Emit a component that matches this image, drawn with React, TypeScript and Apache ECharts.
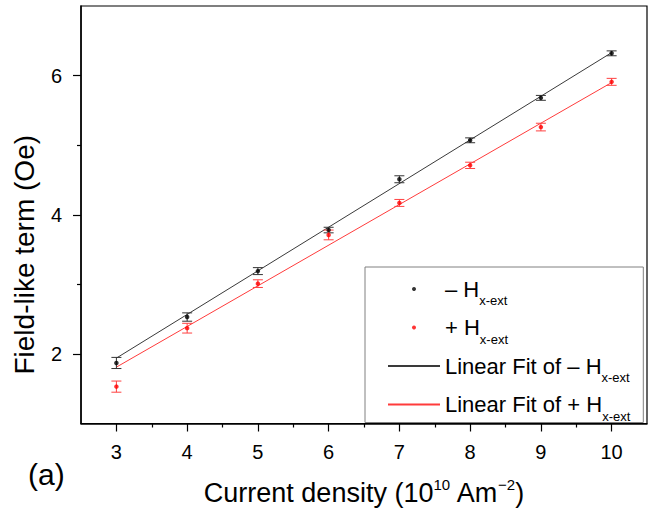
import React, { useEffect, useRef } from "react";
import * as echarts from "echarts";

const FONT = "'Liberation Sans', Arial, sans-serif";

const xValues = [3, 4, 5, 6, 7, 8, 9, 10];
const negH = [1.87, 2.53, 3.19, 3.78, 4.51, 5.07, 5.68, 6.32];
const negHErr = [0.08, 0.06, 0.05, 0.04, 0.05, 0.035, 0.035, 0.035];
const posH = [1.53, 2.37, 3.01, 3.71, 4.17, 4.71, 5.26, 5.91];
const posHErr = [0.08, 0.07, 0.055, 0.07, 0.05, 0.045, 0.055, 0.05];

const fitX = [3, 10];
const fitNeg = [1.94, 6.33];
const fitPos = [1.81, 5.9];

const xTickValues = [3, 4, 5, 6, 7, 8, 9, 10];
const xMinorTicks = [3.5, 4.5, 5.5, 6.5, 7.5, 8.5, 9.5];
const yTickValues = [2, 4, 6];
const yMinorTicks = [3, 5];

const NEG = "– Hx-ext";
const POS = "+ Hx-ext";
const FIT_NEG = "Linear Fit of – Hx-ext";
const FIT_POS = "Linear Fit of + Hx-ext";

function errorBarSeries(name: string, vals: number[], errs: number[], color: string) {
  return {
    type: "custom",
    name,
    data: xValues.map((x, i) => [x, vals[i], errs[i]]),
    encode: { x: 0, y: 1 },
    z: 3,
    renderItem: (params: any, api: any) => {
      const x = api.value(0);
      const y = api.value(1);
      const e = api.value(2);
      const p1 = api.coord([x, y + e]);
      const p2 = api.coord([x, y - e]);
      const w = 5;
      const style = { stroke: color, lineWidth: 1 };
      return {
        type: "group",
        children: [
          { type: "line", shape: { x1: p1[0], y1: p1[1], x2: p2[0], y2: p2[1] }, style },
          { type: "line", shape: { x1: p1[0] - w, y1: p1[1], x2: p1[0] + w, y2: p1[1] }, style },
          { type: "line", shape: { x1: p2[0] - w, y1: p2[1], x2: p2[0] + w, y2: p2[1] }, style },
        ],
      };
    },
  };
}

export default function App() {
  const ref = useRef<HTMLDivElement>(null);
  useEffect(() => {
    if (!ref.current) return;
    const chart = echarts.init(ref.current, null, { renderer: "svg" });
    const axisCommon = {
      axisLine: { show: true, lineStyle: { color: "#000", width: 1.5 } },
      splitLine: { show: false },
    };
    chart.setOption({
      animation: false,
      backgroundColor: "#fff",
      textStyle: { fontFamily: FONT },
      grid: {
        left: 79.5,
        right: 6,
        top: 6,
        bottom: 87,
        show: true,
        borderColor: "#000",
        borderWidth: 1.2,
        backgroundColor: "transparent",
      },
      xAxis: [
        {
          type: "value",
          min: 2.5,
          max: 10.5,
          position: "bottom",
          ...axisCommon,
          axisTick: { show: true, length: 8, customValues: xTickValues, lineStyle: { color: "#000", width: 1.2 } },
          axisLabel: { customValues: xTickValues, fontSize: 20, color: "#000", margin: 18, fontFamily: FONT },
          name: "{m|Current density (10}{p|10}{m| Am}{p|−2}{m|)}",
          nameLocation: "middle",
          nameGap: 53,
          nameTextStyle: {
            color: "#000",
            rich: {
              m: { fontSize: 27, lineHeight: 32, verticalAlign: "middle", fontFamily: FONT, color: "#000" },
              p: { fontSize: 15, lineHeight: 15, verticalAlign: "top", fontFamily: FONT, color: "#000" },
            },
          },
        },
        {
          type: "value",
          min: 2.5,
          max: 10.5,
          position: "bottom",
          axisLine: { show: false },
          splitLine: { show: false },
          axisTick: { show: true, length: 4, customValues: xMinorTicks, lineStyle: { color: "#000", width: 1.2 } },
          axisLabel: { show: false },
        },
      ],
      yAxis: [
        {
          type: "value",
          min: 1,
          max: 7,
          position: "left",
          ...axisCommon,
          axisTick: { show: true, length: 8, customValues: yTickValues, lineStyle: { color: "#000", width: 1.2 } },
          axisLabel: { customValues: yTickValues, fontSize: 20, color: "#000", margin: 19, fontFamily: FONT },
          name: "Field-like term (Oe)",
          nameLocation: "middle",
          nameGap: 37,
          nameRotate: 90,
          nameTextStyle: { fontSize: 28, lineHeight: 32, color: "#000", fontFamily: FONT, padding: [0, 80, 0, 0] },
        },
        {
          type: "value",
          min: 1,
          max: 7,
          position: "left",
          axisLine: { show: false },
          splitLine: { show: false },
          axisTick: { show: true, length: 4, customValues: yMinorTicks, lineStyle: { color: "#000", width: 1.2 } },
          axisLabel: { show: false },
        },
      ],
      legend: {
        orient: "vertical",
        left: 365,
        top: 267,
        padding: [11, 13, 0, 22],
        itemGap: 9.5,
        itemWidth: 52,
        itemHeight: 4,
        borderColor: "#808080",
        borderWidth: 1,
        backgroundColor: "#fff",
        data: [
          { name: NEG },
          { name: POS },
          { name: FIT_NEG, itemStyle: { opacity: 0 } },
          { name: FIT_POS, itemStyle: { opacity: 0 } },
        ],
        formatter: (name: string) => {
          const prefix = name.slice(0, name.indexOf("Hx-ext"));
          return `{m|${prefix}H}{s|x-ext}`;
        },
        textStyle: {
          color: "#000",
          fontFamily: FONT,
          fontSize: 22,
          rich: {
            m: { fontSize: 22, lineHeight: 36, verticalAlign: "middle", fontFamily: FONT, color: "#000" },
            s: { fontSize: 13, lineHeight: 8, verticalAlign: "bottom", fontFamily: FONT, color: "#000" },
          },
        },
      },
      graphic: [
        {
          type: "text",
          left: 28,
          top: 459,
          style: { text: "(a)", fontSize: 30, fontFamily: FONT, fill: "#000" },
        },
      ],
      series: [
        {
          type: "line",
          name: FIT_NEG,
          data: fitX.map((x, i) => [x, fitNeg[i]]),
          symbol: "none",
          lineStyle: { color: "#3a3a3a", width: 1 },
          itemStyle: { color: "#3a3a3a" },
          z: 2,
        },
        {
          type: "line",
          name: FIT_POS,
          data: fitX.map((x, i) => [x, fitPos[i]]),
          symbol: "none",
          lineStyle: { color: "#ff3b3b", width: 1 },
          itemStyle: { color: "#ff3b3b" },
          z: 2,
        },
        errorBarSeries("negErr", negH, negHErr, "#333"),
        errorBarSeries("posErr", posH, posHErr, "#ff4040"),
        {
          type: "scatter",
          name: NEG,
          data: xValues.map((x, i) => [x, negH[i]]),
          symbol: "circle",
          symbolSize: 4.5,
          itemStyle: { color: "#000" },
          z: 4,
        },
        {
          type: "scatter",
          name: POS,
          data: xValues.map((x, i) => [x, posH[i]]),
          symbol: "circle",
          symbolSize: 4.5,
          itemStyle: { color: "#ff0000" },
          z: 4,
        },
      ],
    });
    return () => chart.dispose();
  }, []);
  return <div ref={ref} style={{ position: "fixed", left: 0, top: 0, width: 653, height: 511 }} />;
}
